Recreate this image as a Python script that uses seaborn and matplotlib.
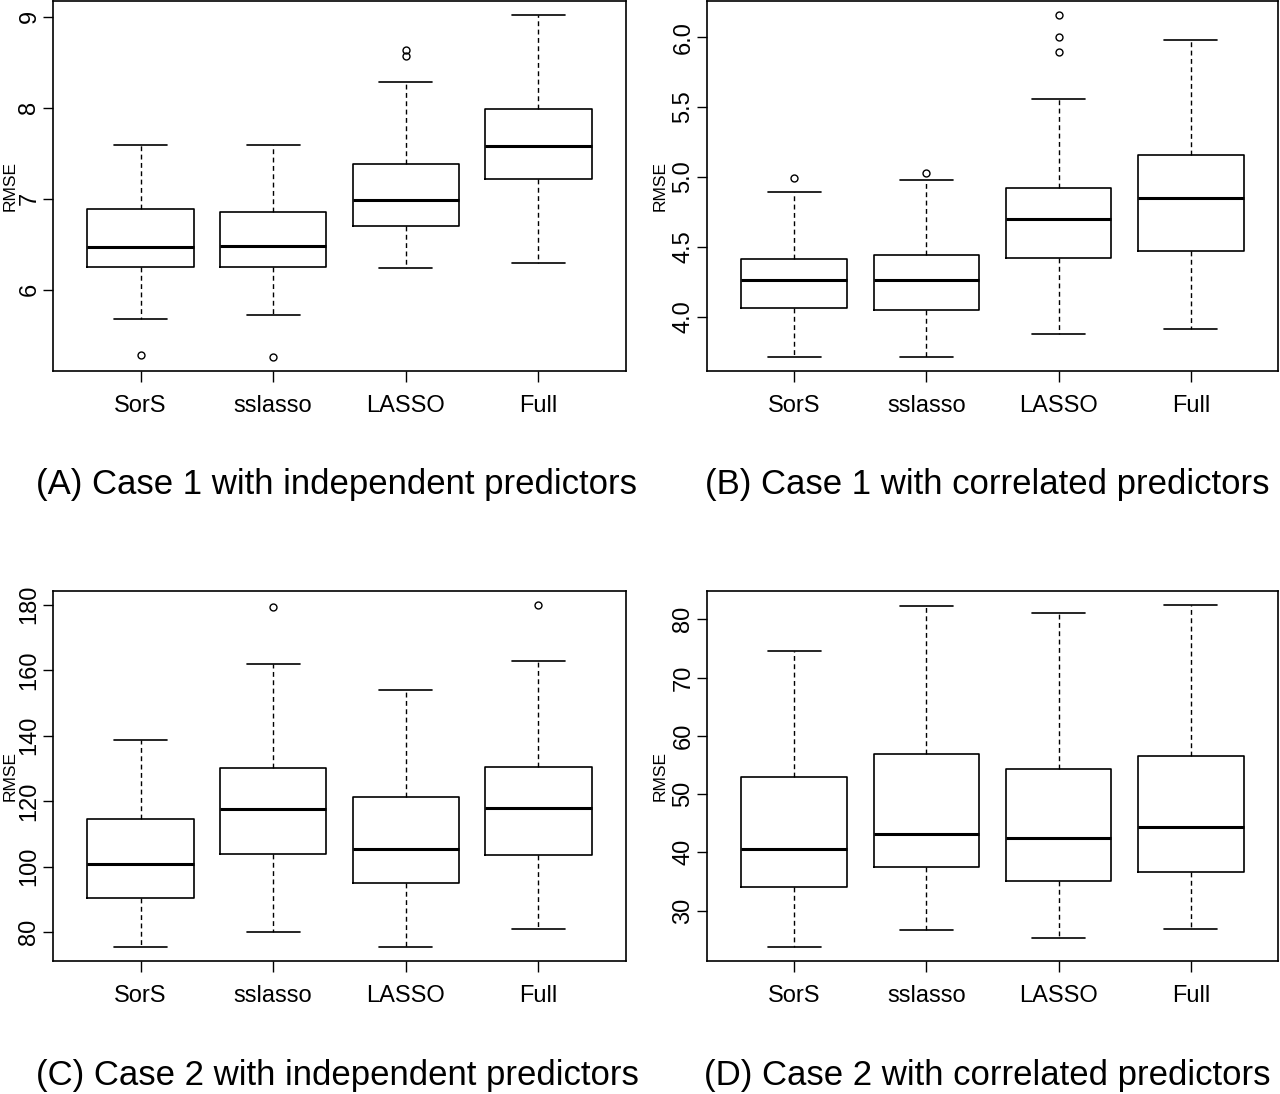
import matplotlib
matplotlib.use("Agg")
import matplotlib.pyplot as plt
import seaborn as sns

sns.set_theme(style="ticks")
plt.rcParams["font.family"] = ["Liberation Sans", "DejaVu Sans"]
plt.rcParams["text.color"] = "black"
plt.rcParams["axes.labelcolor"] = "black"

methods = ["SorS", "sslasso", "LASSO", "Full"]

# five-number summaries: whisker lo, Q1, median, Q3, whisker hi
a_lo = [5.68, 5.72, 6.24, 6.30]
a_q1 = [6.25, 6.25, 6.70, 7.22]
a_med = [6.47, 6.48, 6.99, 7.58]
a_q3 = [6.89, 6.85, 7.38, 7.98]
a_hi = [7.59, 7.59, 8.28, 9.02]
a_out = [[5.28], [5.26], [8.57, 8.63], []]

b_lo = [3.71, 3.71, 3.88, 3.91]
b_q1 = [4.06, 4.05, 4.42, 4.47]
b_med = [4.26, 4.26, 4.70, 4.85]
b_q3 = [4.41, 4.44, 4.92, 5.16]
b_hi = [4.89, 4.98, 5.56, 5.98]
b_out = [[4.99], [5.03], [5.89, 6.00, 6.16], []]

c_lo = [75.4, 80.2, 75.4, 80.9]
c_q1 = [90.6, 103.9, 95.0, 103.7]
c_med = [100.9, 117.5, 105.4, 117.9]
c_q3 = [114.5, 130.2, 121.4, 130.5]
c_hi = [138.6, 161.8, 154.0, 162.9]
c_out = [[], [179.3], [], [180.0]]

d_lo = [23.7, 26.7, 25.3, 26.8]
d_q1 = [34.1, 37.4, 35.1, 36.7]
d_med = [40.5, 43.1, 42.5, 44.4]
d_q3 = [53.0, 56.8, 54.3, 56.6]
d_hi = [74.5, 82.2, 81.1, 82.5]
d_out = [[], [], [], []]

captions = ["(A) Case 1 with independent predictors",
            "(B) Case 1 with correlated predictors",
            "(C) Case 2 with independent predictors",
            "(D) Case 2 with correlated predictors"]

panels = [(a_lo, a_q1, a_med, a_q3, a_hi, a_out, [6, 7, 8, 9], "{:.0f}"),
          (b_lo, b_q1, b_med, b_q3, b_hi, b_out, [4.0, 4.5, 5.0, 5.5, 6.0], "{:.1f}"),
          (c_lo, c_q1, c_med, c_q3, c_hi, c_out, [80, 100, 120, 140, 160, 180], "{:.0f}"),
          (d_lo, d_q1, d_med, d_q3, d_hi, d_out, [30, 40, 50, 60, 70, 80], "{:.0f}")]

fig = plt.figure(figsize=(12.8, 10.94), dpi=100)
W, H = 1280, 1094
boxes = [(53, 1, 626, 371), (707, 1, 1278, 371),
         (53, 591, 626, 961), (707, 591, 1278, 961)]
label_x = [10, 660, 10, 660]
cap_x = [337, 987, 337, 987]
cap_y = [484, 484, 1075, 1075]

for k, (lo, q1, med, q3, hi, out, yt, fmt) in enumerate(panels):
    x0, y0, x1, y1 = boxes[k]
    ax = fig.add_axes([x0 / W, 1 - y1 / H, (x1 - x0) / W, (y1 - y0) / H])
    stats = []
    for i in range(4):
        stats.append(dict(whislo=lo[i], q1=q1[i], med=med[i], q3=q3[i],
                          whishi=hi[i], fliers=out[i], label=methods[i]))
    ax.bxp(stats, positions=[1, 2, 3, 4], widths=0.8, showfliers=True,
           patch_artist=False,
           boxprops=dict(color="black", linewidth=1.2),
           medianprops=dict(color="black", linewidth=2.2),
           whiskerprops=dict(color="black", linewidth=1.0, linestyle=(0, (3.5, 2.5))),
           capprops=dict(color="black", linewidth=1.2),
           flierprops=dict(marker="o", markersize=5, markerfacecolor="none",
                           markeredgecolor="black", markeredgewidth=1.0))
    # R-style range: data extremes plus 4 percent
    vals = [v for s in stats for v in [s["whislo"], s["whishi"]] + list(s["fliers"])]
    vmin, vmax = min(vals), max(vals)
    pad = (vmax - vmin) * 0.04
    ax.set_ylim(vmin - pad, vmax + pad)
    ax.set_xlim(0.34, 4.66)
    ax.set_xticks([1, 2, 3, 4])
    ax.set_xticklabels(methods, fontsize=17)
    ax.set_yticks(yt)
    ax.set_yticklabels([fmt.format(v) for v in yt], fontsize=17, rotation=90, va="center")
    ax.set_ylabel("RMSE", fontsize=12.5, va="center")
    ax.yaxis.set_label_coords((label_x[k] - x0) / (x1 - x0), 0.5)
    ax.tick_params(axis="x", length=8, width=1, pad=9, colors="black")
    ax.tick_params(axis="y", length=7, width=1, pad=2, colors="black")
    for sp in ax.spines.values():
        sp.set_visible(True)
        sp.set_linewidth(1.2)
        sp.set_color("black")
    ax.set_facecolor("white")
    fig.text(cap_x[k] / W, 1 - cap_y[k] / H, captions[k], fontsize=25,
             ha="center", va="center")

fig.savefig("out.png", dpi=100, facecolor="white")
